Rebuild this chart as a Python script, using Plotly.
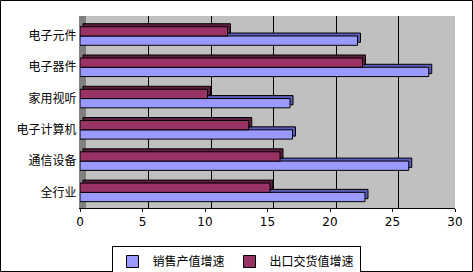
import plotly.graph_objects as go

categories = ["全行业", "通信设备", "电子计算机", "家用视听", "电子器件", "电子元件"]
sales_growth = [22.8, 26.3, 17.0, 16.8, 27.9, 22.2]
export_growth = [15.2, 16.0, 13.5, 10.2, 22.6, 11.8]
series_names = ["销售产值增速", "出口交货值增速"]
x_ticks = [0, 5, 10, 15, 20, 25, 30]

W, H = 473, 272
ML, MR, MT, MB = 80, 18, 16, 64
pw, ph = W - ML - MR, H - MT - MB
xmax = 30
wall_px = 6  # depth offset of back wall in px
shift = wall_px * xmax / pw

bw = 0.297      # bar thickness (category units)
dy = 0.096      # 3D depth, category units
dx = 0.24       # 3D depth, value units

blue, blue_d = "#9999FF", "#5B5BB8"
red, red_d = "#993366", "#5E1F3F"
line = dict(color="black", width=1)

fig = go.Figure()
fig.add_trace(go.Bar(y=categories, x=sales_growth, base=dx, orientation="h",
                     offset=-bw + dy, width=bw, marker=dict(color=blue_d, line=line),
                     showlegend=False, hoverinfo="skip"))
fig.add_trace(go.Bar(y=categories, x=sales_growth, orientation="h", name=series_names[0],
                     offset=-bw, width=bw, marker=dict(color=blue, line=line)))
fig.add_trace(go.Bar(y=categories, x=export_growth, base=dx, orientation="h",
                     offset=dy, width=bw, marker=dict(color=red_d, line=line),
                     showlegend=False, hoverinfo="skip"))
fig.add_trace(go.Bar(y=categories, x=export_growth, orientation="h", name=series_names[1],
                     offset=0, width=bw, marker=dict(color=red, line=line)))
# empty helper trace so that the back-wall grid axis is drawn
fig.add_trace(go.Scatter(x=[None], y=[categories[0]], xaxis="x2", mode="markers",
                         showlegend=False, hoverinfo="skip"))

fig.update_layout(
    width=W, height=H,
    margin=dict(l=ML, r=MR, t=MT, b=MB, autoexpand=False),
    barmode="overlay",
    paper_bgcolor="white",
    plot_bgcolor="#C0C0C0",
    font=dict(family="Noto Sans CJK SC", size=12, color="black"),
    xaxis=dict(range=[0, xmax], tickvals=x_ticks, showgrid=False,
               zeroline=False, showline=True, linecolor="black",
               ticks="outside", ticklen=3, tickcolor="black",
               tickfont=dict(family="DejaVu Sans", size=12)),
    xaxis2=dict(overlaying="x", range=[-shift, xmax - shift], tickvals=x_ticks[1:-1],
                showgrid=True, gridcolor="black", gridwidth=1, showticklabels=False,
                ticks="", zeroline=False, showline=False, side="top"),
    yaxis=dict(type="category", categoryorder="array", categoryarray=categories,
               range=[-0.5, 5.64], showgrid=False, showline=True, linecolor="#808080",
               linewidth=1, ticks="", ticklabelstandoff=0),
    legend=dict(orientation="h", x=(236 - ML) / pw, xanchor="center",
                y=-(246 - (MT + ph)) / ph, yanchor="top",
                bordercolor="black", borderwidth=1, bgcolor="white",
                itemwidth=30, tracegroupgap=0, font=dict(size=12)),
    shapes=[
        dict(type="rect", xref="paper", yref="paper", x0=0, x1=wall_px / pw, y0=0, y1=1,
             fillcolor="#808080", line=dict(width=0), layer="below"),
        dict(type="rect", xref="paper", yref="paper",
             x0=-(ML - 0.5) / pw, x1=(W - ML - 0.5) / pw,
             y0=-(MB - 0.5) / ph, y1=(ph + MT - 0.5) / ph,
             line=dict(color="black", width=1), layer="above"),
    ],
)

fig.write_html("out.html")
